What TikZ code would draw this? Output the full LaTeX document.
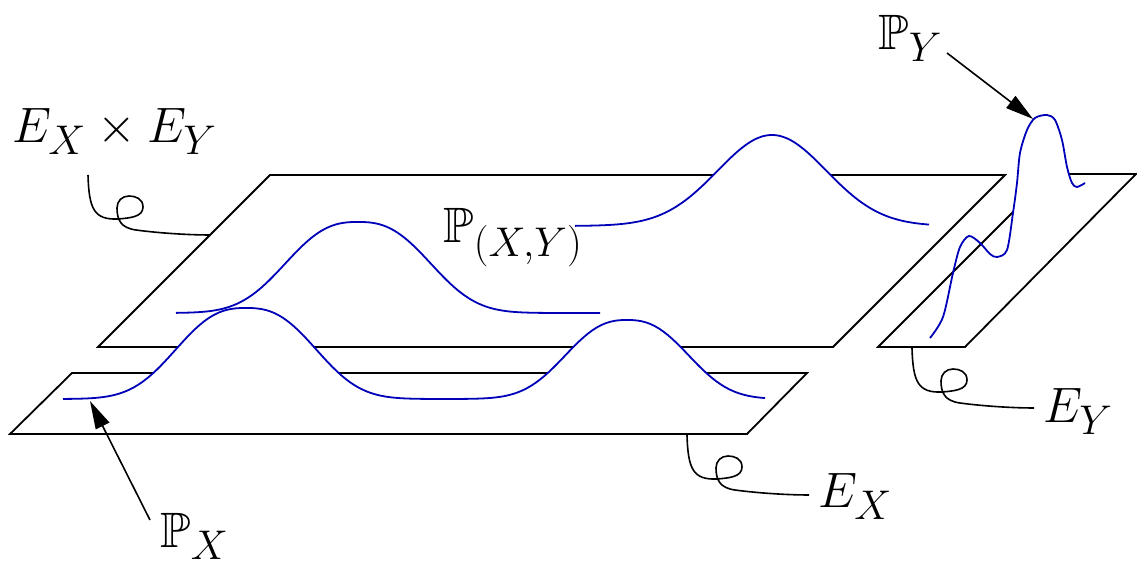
\documentclass[tikz,border=0pt]{standalone}
\usepackage{amssymb}
\usetikzlibrary{arrows.meta}
\DeclareMathSizes{24.88}{24.88}{20.74}{17.28}
\definecolor{curveblue}{RGB}{0,0,185}
\tikzset{
  plane/.style={draw=black,line width=0.9pt},
  dens/.style={draw=curveblue,line width=0.9pt},
  hider/.style={fill=white,draw=none},
  lbl/.style={inner sep=0pt,anchor=base west,font=\fontsize{24.88}{30}\selectfont},
  pointer/.style={draw=black,line width=0.8pt,-{Triangle[length=14pt,width=7.5pt]}},
  loopline/.style={draw=black,line width=0.8pt},
  declare function={bmp(\xa,\ca,\wa,\pa)=exp(-min(exp(\pa*ln(abs(\xa-\ca)/\wa+0.0001)),20));}
}
\begin{document}
\begin{tikzpicture}[x=0.5pt,y=-0.5pt]
\useasboundingbox (0,0) rectangle (1137,565);
% planes
\draw[plane] (270,175) -- (1005,175) -- (833,347) -- (98,347) -- cycle;
\draw[plane] (72,373) -- (807,373) -- (747,434) -- (10,434) -- cycle;
\draw[plane] (1051,174) -- (1136,174) -- (965,347) -- (878,347) -- cycle;
% P_X curve
\fill[hider] plot[domain=63:765,samples=160] (\x,{399-91*bmp(\x,246,85,2.6)-79*bmp(\x,627,76,2.5)}) -- cycle;
\draw[dens] plot[domain=63:765,samples=160] (\x,{399-91*bmp(\x,246,85,2.6)-79*bmp(\x,627,76,2.5)});
% P_(X,Y) curves
\draw[dens] plot[domain=176:600,samples=120] (\x,{313-91*bmp(\x,358,88,2.6)});
\fill[hider] plot[domain=575:929,samples=120] (\x,{226-91*bmp(\x,772,77,2)}) -- cycle;
\draw[dens] plot[domain=575:929,samples=120] (\x,{226-91*bmp(\x,772,77,2)});
% P_Y curve
\fill[hider] plot[smooth,tension=0.5] coordinates {(997,257) (1007,250) (1013,213) (1017,183) (1020,153) (1027,130) (1035,118) (1047,115) (1055,120) (1062,140) (1067,167) (1072,183) (1077,187) (1085,183)} -- cycle;
\draw[dens] plot[smooth,tension=0.5] coordinates {(930,338) (943,317) (953,273) (960,247) (969,236) (980,243) (990,254) (997,257) (1007,250) (1013,213) (1017,183) (1020,153) (1027,130) (1035,118) (1047,115) (1055,120) (1062,140) (1067,167) (1072,183) (1077,187) (1085,183)};
% labels
\node[lbl] (nExEy) at (12,143) {$E_X\times E_Y$};
\node[lbl] (nPXY) at (443,243) {$\mathbb{P}_{(X,Y)}$};
\node[lbl] (nPY) at (878,50) {$\mathbb{P}_Y$};
\node[lbl] (nEY) at (1043,423) {$E_Y$};
\node[lbl] (nEX) at (818,508) {$E_X$};
\node[lbl] (nPX) at (160,548) {$\mathbb{P}_X$};
% arrows
\coordinate (aPYs) at (947,53);
\coordinate (aPYt) at (1033,119);
\coordinate (aPXs) at (150,520);
\coordinate (aPXt) at (90,401);
\draw[pointer] (aPYs) -- (aPYt);
\draw[pointer] (aPXs) -- (aPXt);
% loop connectors
\coordinate (cLxy) at (88,175);
\coordinate (cLx) at (687,435);
\coordinate (cLy) at (912,348);
\foreach \c in {cLxy,cLx,cLy}{
  \begin{scope}[shift={(\c)}]
    \draw[loopline] (0,0) .. controls (1,34) and (6,45) .. (30,44)
      .. controls (42,43) and (55,42) .. (55,32)
      .. controls (55,24) and (48,21) .. (41,21)
      .. controls (34,21) and (29,26) .. (29,33)
      .. controls (29,45) and (33,53) .. (48,55)
      .. controls (70,58) and (100,60) .. (122,60);
  \end{scope}
}
\end{tikzpicture}
\end{document}
